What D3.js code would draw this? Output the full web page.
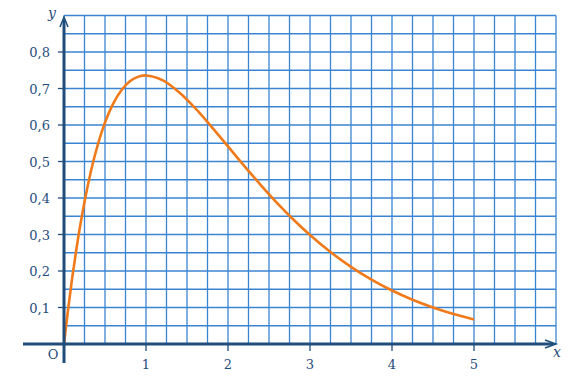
<!DOCTYPE html>
<html><head><meta charset="utf-8">
<script src="https://cdn.jsdelivr.net/npm/d3@7"></script>
<style>body{margin:0;background:#fff}svg{display:block}</style>
</head><body>
<svg id="c" width="573" height="382"></svg>
<script>
const xs = [0,0.05,0.1,0.15,0.2,0.3,0.4,0.5,0.6,0.7,0.8,0.9,1.0,1.2,1.4,1.6,1.8,2.0,2.2,2.4,2.6,2.8,3.0,3.25,3.5,3.75,4.0,4.25,4.5,4.75,5.0];
const ys = [0,0.0951,0.181,0.2582,0.3275,0.4445,0.5363,0.6065,0.6586,0.6952,0.7189,0.7318,0.7358,0.7229,0.6905,0.6461,0.5951,0.5413,0.4875,0.4355,0.3862,0.3405,0.2987,0.252,0.2114,0.1764,0.1465,0.1213,0.1,0.0822,0.0674];
const xTicks = [1,2,3,4,5];
const yTicks = [0.1,0.2,0.3,0.4,0.5,0.6,0.7,0.8];
const yTickLabels = ["0,1","0,2","0,3","0,4","0,5","0,6","0,7","0,8"];

const svg = d3.select("#c");
const x = d3.scaleLinear().domain([0,6]).range([64,556]);
const y = d3.scaleLinear().domain([0,0.9]).range([344,15.5]);
const gridC = "#3a85d2", axisC = "#1f4d7c", labC = "#1f4d7c";

// grid
const g = svg.append("g");
d3.range(0,24.001,1).map(i=>i*0.25).forEach(v=>{
  g.append("line").attr("x1",x(v)).attr("x2",x(v)).attr("y1",y(0)).attr("y2",y(0.9))
   .attr("stroke",gridC).attr("stroke-width",1.3);
});
d3.range(0,18.001,1).map(i=>i*0.05).forEach(v=>{
  g.append("line").attr("x1",x(0)).attr("x2",x(6)).attr("y1",y(v)).attr("y2",y(v))
   .attr("stroke",gridC).attr("stroke-width",1.3);
});

// curve
const line = d3.line().x(d=>x(d[0])).y(d=>y(d[1])).curve(d3.curveCatmullRom);
svg.append("path").datum(xs.map((v,i)=>[v,ys[i]])).attr("d",line)
  .attr("fill","none").attr("stroke","#f07a1a").attr("stroke-width",2.6);

// axes
svg.append("line").attr("x1",23).attr("x2",553).attr("y1",y(0)).attr("y2",y(0))
  .attr("stroke",axisC).attr("stroke-width",3);
svg.append("line").attr("x1",x(0)).attr("x2",x(0)).attr("y1",363).attr("y2",20)
  .attr("stroke",axisC).attr("stroke-width",3);
// arrowheads
svg.append("path").attr("d",`M${x(0)-4},${27} L${x(0)},${17} L${x(0)+4},${27}`)
  .attr("fill","none").attr("stroke",axisC).attr("stroke-width",1.5);
svg.append("path").attr("d",`M545,${y(0)-4} L556,${y(0)} L545,${y(0)+4}`)
  .attr("fill","none").attr("stroke",axisC).attr("stroke-width",1.5);

// ticks
const font = "'DejaVu Serif', serif";
xTicks.forEach(v=>{
  svg.append("line").attr("x1",x(v)).attr("x2",x(v)).attr("y1",y(0)).attr("y2",y(0)+7)
   .attr("stroke",axisC).attr("stroke-width",1.3);
  svg.append("text").attr("x",x(v)).attr("y",369).attr("text-anchor","middle")
   .attr("font-family",font).attr("font-size",13).attr("fill",labC).text(v);
});
yTicks.forEach((v,i)=>{
  svg.append("line").attr("x1",x(0)-6).attr("x2",x(0)).attr("y1",y(v)).attr("y2",y(v))
   .attr("stroke",axisC).attr("stroke-width",1.3);
  svg.append("text").attr("x",50).attr("y",y(v)+5).attr("text-anchor","end")
   .attr("font-family",font).attr("font-size",13).attr("fill",labC).text(yTickLabels[i]);
});
svg.append("text").attr("x",53).attr("y",359).attr("text-anchor","middle")
  .attr("font-family",font).attr("font-size",13).attr("fill",labC).text("O");
svg.append("text").attr("x",52).attr("y",18).attr("text-anchor","middle")
  .attr("font-family",font).attr("font-style","italic").attr("font-size",14).attr("fill",labC).text("y");
svg.append("text").attr("x",557).attr("y",357).attr("text-anchor","middle")
  .attr("font-family",font).attr("font-style","italic").attr("font-size",14).attr("fill",labC).text("x");
</script>
</body></html>
